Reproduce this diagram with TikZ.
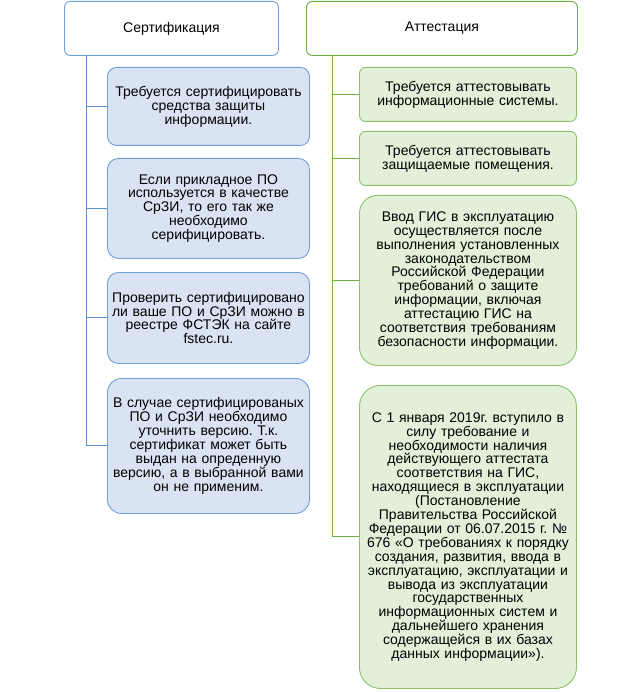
\documentclass[tikz,border=0pt]{standalone}
\usepackage{fontspec}
\setmainfont{Liberation Sans}
\usetikzlibrary{positioning}

\definecolor{blueline}{HTML}{5B8FCB}
\definecolor{bluefill}{HTML}{DAE3F3}
\definecolor{blueedge}{HTML}{6FA0DC}
\definecolor{greenline}{HTML}{70AD47}
\definecolor{greenfill}{HTML}{E2F0D9}
\definecolor{greenedge}{HTML}{8CC168}

\tikzset{
  box/.style={anchor=north west,align=center,inner sep=0pt,
    font=\fontsize{14}{13.9}\selectfont\frenchspacing,line width=0.9pt},
  head/.style={box,fill=white,rounded corners=6pt,minimum height=54pt},
  lbox/.style={box,fill=bluefill,draw=blueedge,text width=202pt},
  rbox/.style={box,fill=greenfill,draw=greenedge,text width=217pt},
  lline/.style={draw=blueline,line width=1pt},
  rline/.style={draw=greenline,line width=1pt}
}

\begin{document}
\begin{tikzpicture}[x=1pt,y=-1pt]
    \useasboundingbox (0,0) rectangle (640,692);
    % headers
    \node[head,draw=blueedge,text width=214pt]  (cert) at (64,1)  {Сертификация};
    \node[head,draw=greenline,text width=271pt] (att)  at (306,1) {Аттестация};
    \coordinate (lrail) at (86,0);
    \coordinate (rrail) at (332,0);
    % left column
    \node[lbox,minimum height=78pt,rounded corners=9pt]  (c1) at (107,67)
      {Требуется сертифицировать\\средства защиты\\информации.};
    \node[lbox,minimum height=100pt,rounded corners=11pt] (c2) at (107,158)
      {Если прикладное ПО\\используется в качестве\\СрЗИ, то его так же\\необходимо\\серифицировать.};
    \node[lbox,minimum height=91pt,rounded corners=11pt]  (c3) at (107,272)
      {Проверить сертифицировано\\ли ваше ПО и СрЗИ можно в\\реестре ФСТЭК на сайте\\fstec.ru.};
    \node[lbox,minimum height=135pt,rounded corners=14pt] (c4) at (107,378)
      {В случае сертифицированых\\ПО и СрЗИ необходимо\\уточнить версию. Т.к.\\сертификат может быть\\выдан на опреденную\\версию, а в выбранной вами\\он не применим.};
    % right column
    \node[rbox,minimum height=54pt,rounded corners=6pt]   (a1) at (359,67)
      {Требуется аттестовывать\\информационные системы.};
    \node[rbox,minimum height=54pt,rounded corners=6pt]   (a2) at (359,131)
      {Требуется аттестовывать\\защищаемые помещения.};
    \node[rbox,minimum height=170pt,rounded corners=18pt] (a3) at (359,195)
      {Ввод ГИС в эксплуатацию\\осуществляется после\\выполнения установленных\\законодательством\\Российской Федерации\\требований о защите\\информации, включая\\аттестацию ГИС на\\соответствия требованиям\\безопасности информации.};
    \node[rbox,minimum height=303pt,rounded corners=21pt] (a4) at (359,385)
      {С 1 января 2019г. вступило в\\силу требование и\\необходимости наличия\\действующего аттестата\\соответствия на ГИС,\\находящиеся в эксплуатации\\(Постановление\\Правительства Российской\\Федерации от 06.07.2015 г. №\\676 «О требованиях к порядку\\создания, развития, ввода в\\эксплуатацию, эксплуатации и\\вывода из эксплуатации\\государственных\\информационных систем и\\дальнейшего хранения\\содержащейся в их базах\\данных информации»).};
    % connectors
    \foreach \n in {c1,c2,c3,c4}
      \draw[lline] (cert.south -| lrail) |- (\n.west);
    \foreach \n in {a1,a2,a3,a4}
      \draw[rline] (att.south -| rrail) |- (\n.west);
\end{tikzpicture}
\end{document}
